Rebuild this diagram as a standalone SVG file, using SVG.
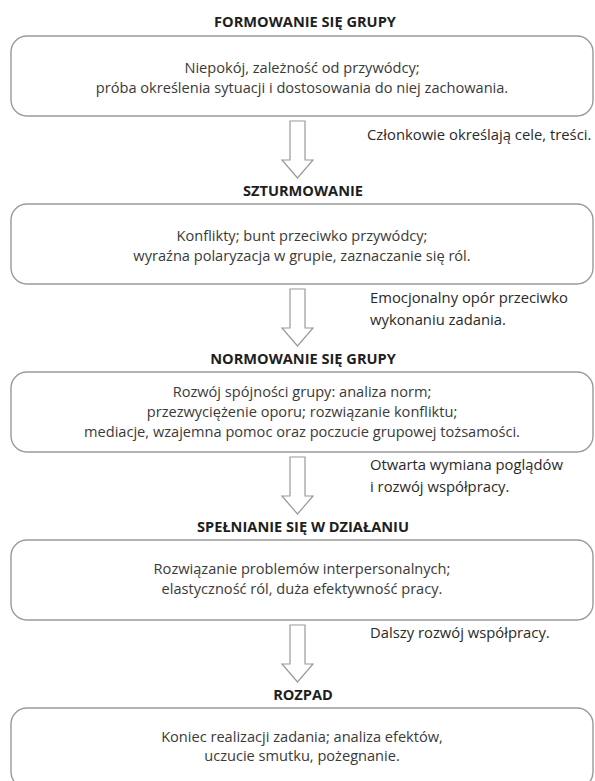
<svg xmlns="http://www.w3.org/2000/svg" width="595" height="781" viewBox="0 0 595 781">
<style>
.box{fill:#fff;stroke:#9a9a9a;stroke-width:1.4}
.arr{fill:#fff;stroke:#9a9a9a;stroke-width:1.2}
.t{font-family:"Open Sans","Liberation Sans",sans-serif;font-size:14.6px;font-weight:bold;fill:#1e1e1e;text-anchor:middle}
.b{font-family:"Open Sans","Liberation Sans",sans-serif;font-size:14.6px;fill:#3a3a3a;text-anchor:middle}
.l{font-family:"Open Sans","Liberation Sans",sans-serif;font-size:14.8px;fill:#2a2a2a}
</style>
<rect width="595" height="781" fill="#fff"/>
<g id="connectors">
<path class="arr" d="M290,121 H305 V160 H313 L297.5,178 L282,160 H290 Z"/>
<path class="arr" d="M290,289 H305 V328 H313 L297.5,346 L282,328 H290 Z"/>
<path class="arr" d="M290,457 H305 V496 H313 L297.5,514 L282,496 H290 Z"/>
<path class="arr" d="M290,625 H305 V664 H313 L297.5,682 L282,664 H290 Z"/>
<text class="l" x="367" y="140">Członkowie określają cele, treści.</text>
<text class="l" x="370" y="303">Emocjonalny opór przeciwko</text>
<text class="l" x="370" y="325">wykonaniu zadania.</text>
<text class="l" x="370" y="470">Otwarta wymiana poglądów</text>
<text class="l" x="370" y="492">i rozwój współpracy.</text>
<text class="l" x="370" y="638">Dalszy rozwój współpracy.</text>
</g>
<g id="n1">
<text class="t" x="305" y="27">FORMOWANIE SIĘ GRUPY</text>
<rect class="box" x="11" y="36" width="582" height="80" rx="16"/>
<text class="b" x="302" y="73">Niepokój, zależność od przywódcy;</text>
<text class="b" x="302" y="93">próba określenia sytuacji i dostosowania do niej zachowania.</text>
</g>
<g id="n2">
<text class="t" x="303" y="196">SZTURMOWANIE</text>
<rect class="box" x="11" y="204" width="582" height="80" rx="16"/>
<text class="b" x="302" y="241">Konflikty; bunt przeciwko przywódcy;</text>
<text class="b" x="302" y="261">wyraźna polaryzacja w grupie, zaznaczanie się ról.</text>
</g>
<g id="n3">
<text class="t" x="303" y="364">NORMOWANIE SIĘ GRUPY</text>
<rect class="box" x="11" y="372" width="582" height="80" rx="16"/>
<text class="b" x="302" y="397">Rozwój spójności grupy: analiza norm;</text>
<text class="b" x="302" y="417">przezwyciężenie oporu; rozwiązanie konfliktu;</text>
<text class="b" x="302" y="437">mediacje, wzajemna pomoc oraz poczucie grupowej tożsamości.</text>
</g>
<g id="n4">
<text class="t" x="303" y="532">SPEŁNIANIE SIĘ W DZIAŁANIU</text>
<rect class="box" x="11" y="540" width="582" height="80" rx="16"/>
<text class="b" x="302" y="574">Rozwiązanie problemów interpersonalnych;</text>
<text class="b" x="302" y="594">elastyczność ról, duża efektywność pracy.</text>
</g>
<g id="n5">
<text class="t" x="303" y="700">ROZPAD</text>
<rect class="box" x="11" y="708" width="582" height="80" rx="16"/>
<text class="b" x="302" y="742">Koniec realizacji zadania; analiza efektów,</text>
<text class="b" x="302" y="761">uczucie smutku, pożegnanie.</text>
</g>
</svg>
